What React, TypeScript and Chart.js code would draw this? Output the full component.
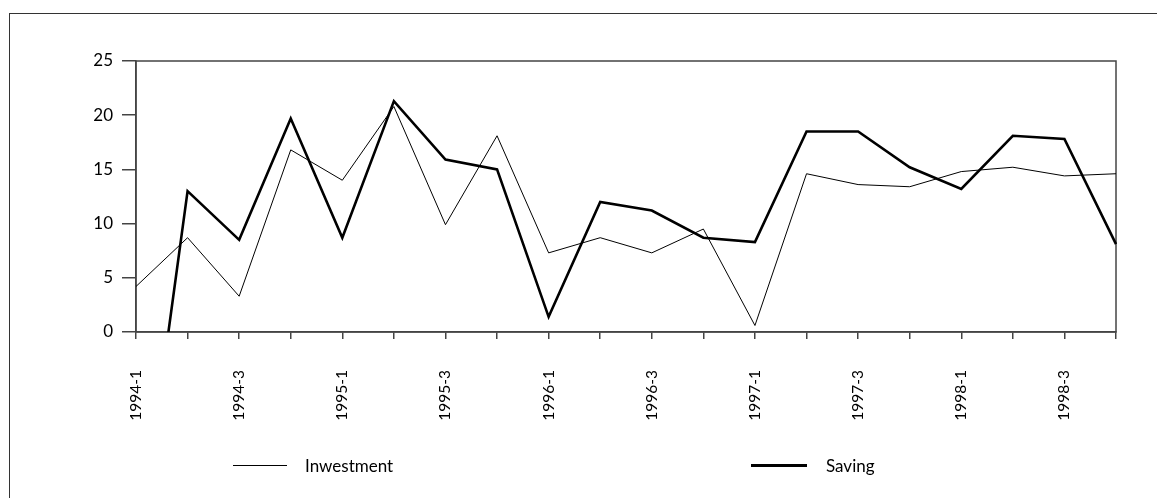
import React, { useEffect, useRef } from "react";
import { Chart, registerables } from "chart.js";

Chart.register(...registerables);

const quarters = [
  "1994-1", "1994-2", "1994-3", "1994-4",
  "1995-1", "1995-2", "1995-3", "1995-4",
  "1996-1", "1996-2", "1996-3", "1996-4",
  "1997-1", "1997-2", "1997-3", "1997-4",
  "1998-1", "1998-2", "1998-3", "1998-4",
];
const investment = [4.2, 8.7, 3.3, 16.8, 14.0, 20.8, 9.9, 18.1, 7.3, 8.7, 7.3, 9.5, 0.6, 14.6, 13.6, 13.4, 14.8, 15.2, 14.4, 14.6];
const saving = [-22, 13.0, 8.5, 19.7, 8.7, 21.3, 15.9, 15.0, 1.4, 12.0, 11.2, 8.7, 8.3, 18.5, 18.5, 15.2, 13.2, 18.1, 17.8, 8.1];
const seriesNames = ["Inwestment", "Saving"];
const yMin = 0;
const yMax = 25;
const yStep = 5;

const FONT = "Lato, 'Open Sans', sans-serif";
const AXIS = "#444";

const framePlugin = {
  id: "frameBox",
  beforeDatasetsDraw(chart: any) {
    const { ctx, chartArea } = chart;
    const { left, top, right, bottom } = chartArea;
    ctx.save();
    ctx.strokeStyle = AXIS;
    ctx.lineWidth = 1.5;
    ctx.strokeRect(left, top, right - left, bottom - top);
    ctx.restore();
  },
};

export default function App() {
  const ref = useRef<HTMLCanvasElement | null>(null);

  useEffect(() => {
    if (!ref.current) return;
    const chart = new Chart(ref.current, {
      type: "line",
      data: {
        labels: quarters,
        datasets: [
          {
            label: seriesNames[0],
            data: investment,
            borderColor: "#000",
            borderWidth: 1,
            pointRadius: 0,
            tension: 0,
            fill: false,
          },
          {
            label: seriesNames[1],
            data: saving,
            borderColor: "#000",
            borderWidth: 2.6,
            pointRadius: 0,
            tension: 0,
            fill: false,
          },
        ],
      },
      options: {
        responsive: false,
        animation: false,
        events: [],
        layout: { padding: { top: 61, right: 41, left: 0, bottom: 0 } },
        plugins: {
          legend: { display: false },
          tooltip: { enabled: false },
          title: { display: false },
        },
        scales: {
          x: {
            type: "category",
            offset: false,
            afterFit: (s: any) => {
              s.height = 166;
              s.paddingRight = 0;
              s.paddingLeft = 0;
            },
            grid: {
              display: true,
              drawOnChartArea: false,
              drawTicks: true,
              tickLength: 7,
              color: AXIS,
              lineWidth: 1.5,
            },
            border: { display: true, color: AXIS, width: 1.5 },
            ticks: {
              autoSkip: false,
              minRotation: 90,
              maxRotation: 90,
              padding: 31,
              color: "#000",
              font: { family: FONT, size: 15.5 },
              callback: (_v: any, i: number) => (i % 2 === 0 ? quarters[i] : ""),
            },
          },
          y: {
            min: yMin,
            max: yMax,
            afterFit: (s: any) => {
              s.width = 136;
            },
            grid: {
              display: true,
              drawOnChartArea: false,
              drawTicks: true,
              tickLength: 14,
              color: AXIS,
              lineWidth: 1.5,
            },
            border: { display: true, color: AXIS, width: 1.5 },
            ticks: {
              stepSize: yStep,
              padding: 9,
              color: "#000",
              font: { family: FONT, size: 17 },
            },
          },
        },
      },
      plugins: [framePlugin],
    });
    return () => chart.destroy();
  }, []);

  const legendText: React.CSSProperties = {
    position: "absolute",
    fontFamily: FONT,
    fontSize: 17,
    color: "#000",
    lineHeight: "20px",
    top: 456,
  };

  return (
    <div style={{ position: "fixed", left: 0, top: 0, width: 1157, height: 498, overflow: "hidden", background: "#fff" }}>
      <div
        style={{
          position: "absolute",
          left: 9,
          top: 13,
          width: 1300,
          height: 700,
          border: "1px solid #333",
          boxSizing: "border-box",
        }}
      />
      <canvas ref={ref} width={1157} height={498} style={{ position: "absolute", left: 0, top: 0 }} />
      <div style={{ position: "absolute", left: 233, top: 465, width: 54, height: 1, background: "#000" }} />
      <div style={{ ...legendText, left: 305 }}>{seriesNames[0]}</div>
      <div style={{ position: "absolute", left: 751, top: 464, width: 56, height: 3, background: "#000" }} />
      <div style={{ ...legendText, left: 826 }}>{seriesNames[1]}</div>
    </div>
  );
}
